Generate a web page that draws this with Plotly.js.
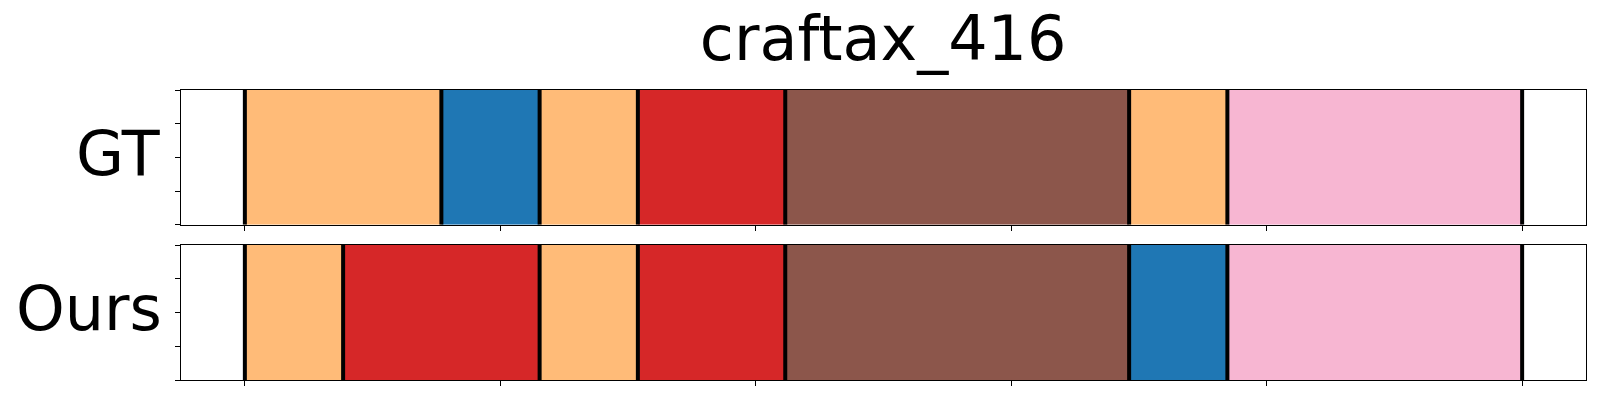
<!DOCTYPE html>
<html><head><meta charset="utf-8">
<script src="https://cdn.plot.ly/plotly-3.0.1.min.js"></script>
<style>body{margin:0;background:#fff}</style>
</head><body><div id="chart" style="width:1600px;height:400px"></div>
<script>
const chartTitle = 'craftax_416';
const rowLabels = ['GT', 'Ours'];
// per-frame action class ids (26 frames)
const gtFrames   = [3,3,3,3,0,0,3,3,6,6,6,10,10,10,10,10,10,10,3,3,13,13,13,13,13,13];
const oursFrames = [3,3,6,6,6,6,3,3,6,6,6,10,10,10,10,10,10,10,0,0,13,13,13,13,13,13];
const classColors = {0:'#1f77b4', 3:'#ffbb78', 6:'#d62728', 10:'#8c564b', 13:'#f7b6d2'};
const xTicks = [0, 0.2, 0.4, 0.6, 0.8, 1.0];
const yTicks = [0, 0.25, 0.5, 0.75, 1.0];

function segments(frames){
  const n = frames.length, segs = [];
  let s = 0;
  for (let i = 1; i <= n; i++) {
    if (i === n || frames[i] !== frames[s]) { segs.push({cls: frames[s], start: s/n, end: i/n}); s = i; }
  }
  return segs;
}

const traces = [];
[gtFrames, oursFrames].forEach((frames, k) => {
  const segs = segments(frames);
  const xa = k === 0 ? 'x' : 'x2', ya = k === 0 ? 'y' : 'y2';
  traces.push({
    type: 'bar', orientation: 'h', xaxis: xa, yaxis: ya,
    y: segs.map(() => 0.5), base: segs.map(s => s.start), x: segs.map(s => s.end - s.start),
    width: 1, marker: {color: segs.map(s => classColors[s.cls]), line: {width: 0}},
    hoverinfo: 'skip', showlegend: false
  });
  const bx = [], by = [];
  const bounds = [segs[0].start].concat(segs.map(s => s.end));
  bounds.forEach(b => { bx.push(b, b, null); by.push(0, 1, null); });
  traces.push({
    type: 'scatter', mode: 'lines', xaxis: xa, yaxis: ya, x: bx, y: by,
    line: {color: '#000', width: 4}, hoverinfo: 'skip', showlegend: false, cliponaxis: false
  });
});

const xBase = {range: [-0.05, 1.05], tickvals: xTicks, showticklabels: false, ticks: 'outside',
  ticklen: 5, tickwidth: 1, tickcolor: '#000', showline: true, mirror: true, linecolor: '#000',
  linewidth: 1, showgrid: false, zeroline: false, fixedrange: true};
const yBase = {range: [0, 1], tickvals: yTicks, showticklabels: false, ticks: 'outside',
  ticklen: 5, tickwidth: 1, tickcolor: '#000', showline: true, mirror: true, linecolor: '#000',
  linewidth: 1, showgrid: false, zeroline: false, fixedrange: true};

const layout = {
  width: 1600, height: 400,
  margin: {l: 181, r: 14, t: 90, b: 20},
  paper_bgcolor: '#fff', plot_bgcolor: '#fff',
  font: {family: 'DejaVu Sans', color: '#000'},
  barmode: 'overlay',
  title: {text: chartTitle, font: {size: 62, family: 'DejaVu Sans', color: '#000'},
    x: 0.552, xanchor: 'center', xref: 'container', y: 0.85, yanchor: 'bottom', yref: 'container'},
  xaxis: Object.assign({}, xBase, {anchor: 'y'}),
  xaxis2: Object.assign({}, xBase, {anchor: 'y2'}),
  yaxis: Object.assign({}, yBase, {domain: [0.5355, 1], anchor: 'x'}),
  yaxis2: Object.assign({}, yBase, {domain: [0, 0.4655], anchor: 'x2'}),
  annotations: [
    {text: rowLabels[0], xref: 'paper', yref: 'paper', x: -0.0128, y: 0.782, xanchor: 'right', yanchor: 'middle',
     showarrow: false, font: {size: 62, family: 'DejaVu Sans', color: '#000'}},
    {text: rowLabels[1], xref: 'paper', yref: 'paper', x: -0.0118, y: 0.246, xanchor: 'right', yanchor: 'middle',
     showarrow: false, font: {size: 62, family: 'DejaVu Sans', color: '#000'}}
  ]
};

Plotly.newPlot('chart', traces, layout, {displayModeBar: false, staticPlot: true});
</script>
</body></html>
